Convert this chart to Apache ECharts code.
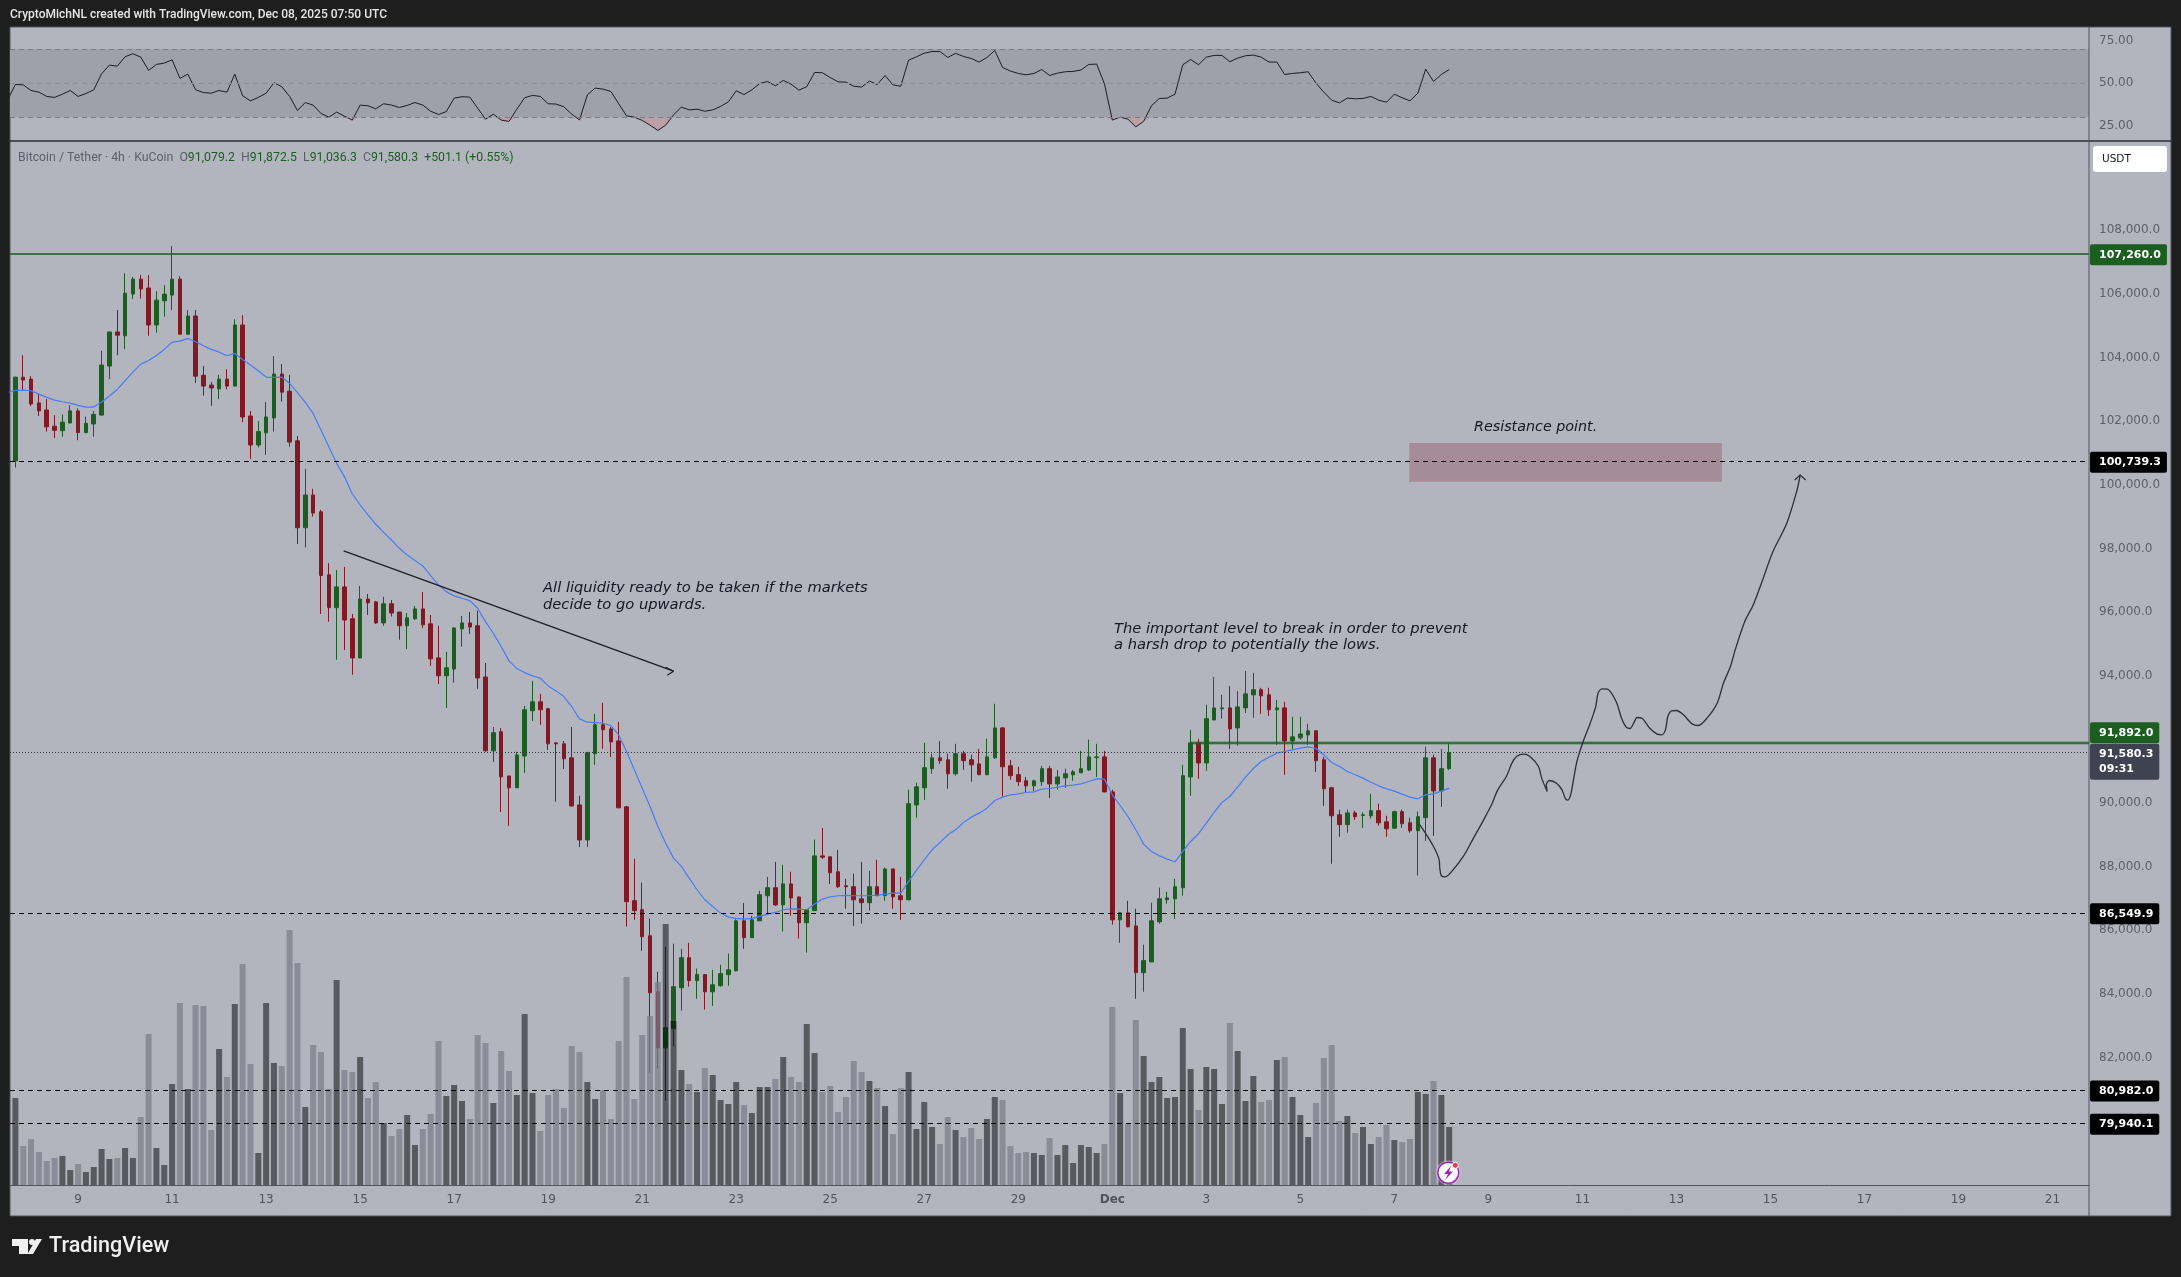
<!DOCTYPE html>
<html>
<head>
<meta charset="utf-8">
<title>BTC/USDT 4h</title>
<script src="https://cdn.jsdelivr.net/npm/echarts@6/dist/echarts.min.js"></script>
<style>
  html, body { margin: 0; padding: 0; background: #1e1e1e; }
  #chart { width: 2181px; height: 1277px; }
</style>
</head>
<body>
<div id="chart"></div>
<script>
// 4h candles, one entry per bar
const opens = [
  100750,103380,103320,102570,102350,101840,101700,101940,102320,101640,
  101910,102190,103730,104800,104680,105990,106460,106180,105020,105780,
  105960,106460,104730,105300,103440,103130,103010,103320,103100,105020,
  102160,101250,101630,102100,103480,102940,101380,98650,99680,99150,
  97170,96140,96790,95790,94560,96410,96320,95660,96260,96000,
  95570,95790,96100,95630,94560,94000,94210,95470,95660,95570,
  93960,91640,92240,90850,90480,91480,92900,93180,92960,91890,
  91860,91420,89940,88840,91550,92460,92330,91950,89880,86930,
  86650,85830,84070,82310,82910,84200,85140,84420,84610,84070,
  84260,84610,84730,86300,85770,86300,87090,87340,86800,87460,
  87050,86240,86620,88340,88310,87840,87400,87370,86990,86870,
  87370,87090,87930,87090,86960,89940,90480,91080,91420,91360,
  90920,91550,91360,91230,90890,91420,92360,91170,90890,90700,
  90540,90670,91080,90600,90790,90890,90950,91040,91430,91450,
  90350,86330,86550,86140,84670,85010,86270,86960,86990,87340,
  90820,91890,91260,92610,92960,92990,92360,92990,93400,93560,
  93400,92930,92990,91950,92050,92140,92270,91360,90480,89630,
  89320,89690,89610,89600,89760,89410,89210,89730,89380,89130,
  89540,91420,90380,91079.2
]
const closes = [
  103380,103290,102540,102320,101820,101710,101970,102320,101640,101930,
  102210,103760,104800,104700,106020,106460,106150,105020,105800,105990,
  106460,104730,105300,103410,103100,103040,103320,103100,105020,102130,
  101250,101670,102130,103480,102910,101340,98650,99680,99110,97150,
  96140,96790,95750,94560,96410,96290,95660,96260,95970,95570,
  95820,96100,95600,94530,94000,94250,95500,95660,95530,93930,
  91640,92210,90820,90480,91510,92930,93180,92930,91860,91860,
  91390,89910,88840,91580,92460,92300,91920,89850,86900,86620,
  85800,84040,82310,82940,84230,85140,84420,84610,84070,84290,
  84640,84760,86300,85770,86330,87120,87340,86800,87460,87020,
  86240,86650,88340,88300,87810,87370,87370,86960,86870,87370,
  87090,87930,87050,86960,89980,90510,91110,91420,91330,90920,
  91550,91330,91200,90890,91450,92360,91140,90860,90670,90540,
  90700,91080,90600,90820,90920,90980,91080,91450,91450,90350,
  86330,86550,86110,84670,85050,86300,86990,87020,87370,90860,
  91890,91260,92650,92990,92990,92330,93020,93430,93560,93370,
  92930,92990,91950,92080,92170,92270,91330,90450,89600,89320,
  89690,89570,89630,89760,89380,89190,89730,89350,89130,89570,
  91420,90380,91080,91580.3
]
const lows = [
  100540,102950,102470,102160,101670,101470,101510,101930,101400,101620,
  101510,102180,103320,104070,104260,105840,105850,104680,104780,105280,
  105490,104730,104720,103200,102800,102480,102690,103000,103090,101970,
  100810,101170,100940,101670,102610,101200,98140,98030,99000,95940,
  95700,94500,94810,94030,94550,95910,95630,95570,95860,95130,
  94840,95750,95500,94310,93740,92990,93780,94910,95310,93590,
  91620,91290,89720,89280,90470,90950,92580,92460,91670,90040,
  91070,89880,88620,88620,91200,91700,91450,89840,86120,86330,
  85360,81530,81660,80650,82350,83480,84230,83850,83510,83630,
  84230,84260,84710,85420,85760,86290,86490,86770,85960,86460,
  85740,85300,86610,88250,87460,87340,86680,86140,86210,86620,
  87080,86930,86680,86330,86950,89540,90100,90920,91230,90450,
  90860,91040,90670,90880,90880,91390,90200,90730,90540,90320,
  90380,90540,90160,90420,90480,90700,90940,91010,90820,90340,
  86180,85610,86100,83850,84070,85010,86210,86840,86360,87090,
  90230,90760,91010,92600,92650,91700,91800,92830,92680,92800,
  92740,91830,90890,91700,91990,91830,90980,89910,88090,88940,
  89070,89470,89220,89510,89290,88940,89190,89220,89070,87720,
  88810,88970,89880,91036.3
]
const highs = [
  103400,104070,103410,102840,102690,102190,102210,102500,102400,102140,
  102320,104210,104810,105490,106640,106530,106590,106590,106080,106270,
  107500,106550,105490,105490,103730,103230,103450,103630,105200,105330,
  102320,102000,102600,104040,103790,103450,101530,100500,99870,99210,
  97540,97320,97420,95940,96820,96570,96350,96480,96380,96010,
  95970,96190,96630,95910,95570,94750,95530,95880,96000,96040,
  94400,92390,92360,90860,91610,93050,93840,93430,92990,91920,
  91950,92390,90230,91610,92800,93150,92390,92550,89910,88250,
  87500,86370,84700,85490,85580,85420,85610,84800,84620,84760,
  84920,85270,86350,86860,86460,87240,87680,88150,88060,87840,
  87060,86660,88850,89220,88320,88530,87620,87780,88150,87870,
  88220,87970,87940,87680,90420,90640,91890,91550,91950,91550,
  91860,91640,91520,91700,92020,93120,92390,91360,91140,90820,
  90730,91170,91170,91040,91080,91040,91640,91990,91860,91640,
  90420,86580,86930,86680,85550,86870,87340,87210,87620,91200,
  92300,92020,93090,93960,93400,93680,93520,94150,94090,93620,
  93620,93240,93180,92710,92710,92490,92280,91450,90510,89790,
  89790,89760,89710,90290,89980,89600,89760,89790,89540,89730,
  91770,91520,91700,91872.5
]
// volume pane has no scale in the picture, so arbitrary units
const volumes = [
  87,39,46,33,24,27,29,15,21,13,18,36,26,27,37,27,68,151,37,20,
  101,182,96,180,179,55,136,108,181,221,121,32,182,122,119,255,222,78,140,133,
  96,205,115,113,128,87,103,62,49,56,70,40,56,71,144,89,100,84,66,150,
  142,82,134,114,90,171,92,54,90,96,77,139,133,103,86,95,66,144,208,86,
  150,169,203,261,164,115,101,93,117,110,85,81,103,80,72,98,98,106,128,108,
  103,161,132,93,99,73,88,124,113,104,97,79,51,97,113,56,83,58,41,68,
  55,48,57,46,66,88,85,39,32,33,32,30,47,30,40,22,40,38,32,41,
  178,92,61,165,129,103,108,87,88,157,116,75,118,116,81,162,134,84,109,83,
  85,125,128,88,70,48,82,127,140,64,69,52,58,41,48,60,45,43,46,93,
  91,104,90,58
]
const maValues = [
  102964,102974,102953,102849,102744,102660,102608,102566,102493,102441,
  102441,102598,102786,102995,103268,103540,103791,103906,104063,104252,
  104482,104513,104597,104492,104367,104252,104168,104053,104126,103937,
  103760,103582,103383,103372,103383,103184,102891,102587,102242,101718,
  101197,100673,100254,99710,99365,99051,98758,98506,98266,98004,
  97794,97617,97449,97145,96852,96643,96507,96434,96360,96120,
  95701,95335,94916,94466,94225,94099,93995,93921,93681,93524,
  93346,93032,92644,92540,92529,92508,92435,92142,91618,91043,
  90467,89891,89263,88740,88269,88009,87642,87276,86962,86752,
  86543,86417,86375,86354,86375,86438,86511,86563,86647,86678,
  86668,86647,86825,86982,87055,87087,87097,87087,87087,87087,
  87108,87139,87170,87170,87537,87882,88217,88531,88762,89002,
  89159,89390,89557,89683,89840,90081,90185,90258,90290,90332,
  90353,90436,90457,90499,90541,90562,90604,90677,90761,90750,
  90258,89923,89578,89159,88709,88479,88343,88238,88154,88479,
  88793,89034,89369,89704,90018,90206,90499,90813,91085,91305,
  91441,91567,91619,91672,91724,91766,91713,91515,91274,91148,
  90991,90887,90782,90656,90541,90447,90374,90279,90185,90133,
  90258,90290,90374,90468
]
const rsiValues = [
  49.2,49.0,45.7,44.7,42.2,41.6,43.5,45.7,42.2,43.9,46.1,55.5,60.6,60.0,65.5,67.3,65.3,57.5,61.0,61.8,
  63.7,52.8,55.3,46.1,44.5,44.1,45.7,44.7,55.3,42.6,39.6,41.6,44.1,50.2,47.9,42.2,33.9,38.6,37.1,32.2,
  30.0,33.0,30.6,28.3,37.1,36.7,34.9,37.9,37.1,35.7,36.9,38.6,37.1,33.5,31.6,33.3,41.2,42.0,41.8,35.3,
  28.8,31.8,28.3,27.5,34.7,41.4,42.8,42.2,37.9,37.7,36.1,31.8,28.4,43.1,47.1,46.5,45.1,37.9,30.8,30.0,
  28.1,25.3,22.2,25.3,31.4,35.9,34.3,34.7,33.5,34.3,36.3,39.0,45.5,43.3,46.1,49.8,51.0,48.4,51.6,49.4,
  45.9,47.9,56.3,56.1,53.3,50.8,50.6,48.2,47.7,51.2,49.2,54.5,49.0,48.2,63.5,65.5,67.6,68.6,68.6,65.1,
  67.5,65.7,64.5,62.4,65.1,69.2,59.2,57.1,55.7,54.9,55.7,58.0,54.5,55.9,56.7,56.9,57.7,61.0,61.2,49.6,
  28.3,30.0,28.8,24.3,27.5,36.7,41.0,41.2,43.5,60.8,63.9,60.8,65.3,66.3,66.3,62.6,64.7,66.1,66.5,65.3,
  62.4,62.4,55.1,55.7,56.1,56.7,50.0,44.7,40.0,38.4,41.2,40.8,41.0,42.2,40.0,38.8,43.5,41.4,39.6,44.1,
  58.2,51.0,55.1,58.0
]
// the bar just left of the visible range, only its lines show
const rsiBefore = 40.2
const maBefore = 102900

// hand drawn forecast, [bar, price]
const forecastPath = [
  [179.2,89327],[180.1,89002],[181.0,88636],[181.7,88238],[181.8,87955],[182.0,87715],[182.5,87683],[183.5,87903],
  [184.8,88322],[186.1,88898],[187.4,89473],[188.4,89944],[189.2,90415],[190.3,90834],[191.0,91253],[191.6,91462],
  [192.5,91535],[193.3,91462],[194.4,91148],[194.8,90782],[195.5,90363],[195.4,90572],[195.8,90709],[196.7,90625],
  [197.4,90415],[197.8,90154],[198.1,90091],[198.5,90258],[198.9,90782],[199.3,91305],[200.1,91933],[201.0,92509],
  [201.7,93032],[202.0,93451],[202.5,93587],[203.2,93577],[204.3,93189],[205.0,92666],[205.6,92383],[206.1,92342],
  [206.5,92488],[207.0,92687],[207.6,92666],[208.6,92352],[209.5,92174],[210.1,92143],[210.6,92300],[210.9,92718],
  [211.4,92896],[212.0,92907],[212.9,92771],[214.0,92488],[214.8,92436],[215.9,92666],[217.2,93137],[218.0,93765],
  [218.9,94289],[219.5,94812],[220.7,95691],[221.8,96225],[223.0,97010],[224.3,97889],[226.1,98800],[227.4,99836],
  [227.8,100307]
]
const forecastHead = [[227.1,100150],[227.8,100307],[228.5,100150]]
const trendLine = [[41.9,97921],[84.0,94143]]
const trendHead = [[83.0,94269],[84.0,94143],[83.2,94018]]
const resistanceZone = [[177.9,101312],[217.8,100097]]

const dashedLevels = [100739.3, 86549.9, 80982.0, 79940.1]
const resistanceLine = 107260.0
const breakLevel = 91892.0
const breakLevelStart = 149.9
const lastPrice = 91580.3
const countdown = '09:31'

const timeTickBars = [8,20,32,44,56,68,80,92,104,116,128,140,152,164,176,188,200,212,224,236,248,260]
const timeLabels = ['9','11','13','15','17','19','21','23','25','27','29','Dec','3','5','7','9','11','13','15','17','19','21']
const rsiTicks = [25, 50, 75]

const axisFont = 'DejaVu Sans'
const noteFont = 'italic 14.7px DejaVu Sans'
const upColor = '#1b5e20'
const downColor = '#801922'
const inkColor = '#1c1d22'
const xMin = -0.689
const xMax = 264.66

const money = v => v.toLocaleString('en-US', { minimumFractionDigits: 1, maximumFractionDigits: 1 })

function tag(text, bg, dy) {
  return {
    show: true,
    position: 'end',
    distance: 1,
    formatter: text,
    color: '#fff',
    backgroundColor: bg,
    padding: [3, 6, 3, 9],
    borderRadius: 2,
    lineHeight: 15,
    fontFamily: axisFont,
    fontSize: 11,
    fontWeight: 'bold',
    align: 'left',
    offset: [0, dy === undefined ? 1 : dy]
  }
}

const chart = echarts.init(document.getElementById('chart'), null, { renderer: 'canvas' })

chart.setOption({
  animation: false,
  backgroundColor: '#1e1e1e',
  grid: [
    { left: 10, right: 92, top: 27, height: 114 },
    { left: 10, right: 92, top: 141, height: 1044 }
  ],
  xAxis: [
    { type: 'value', gridIndex: 0, min: xMin, max: xMax, axisLabel: { show: false }, axisTick: { show: false }, axisLine: { show: false }, splitLine: { show: false } },
    {
      type: 'value', gridIndex: 1, min: xMin, max: xMax,
      axisTick: { show: false },
      splitLine: { show: false },
      axisLine: { show: true, onZero: false, lineStyle: { color: '#50535e', width: 1 } },
      axisLabel: {
        customValues: timeTickBars,
        hideOverlap: false,
        margin: 9,
        fontFamily: axisFont,
        fontSize: 12,
        color: '#50535e',
        formatter: v => {
          const label = timeLabels[timeTickBars.indexOf(v)]
          return label === 'Dec' ? '{month|Dec}' : label
        },
        rich: { month: { fontFamily: axisFont, fontSize: 12, fontWeight: 'bold', color: '#50535e' } }
      }
    }
  ],
  yAxis: [
    {
      type: 'value', gridIndex: 0, position: 'right', min: 16, max: 83,
      splitLine: { show: false }, axisTick: { show: false }, axisLine: { show: false },
      axisLabel: { customValues: rsiTicks, margin: 10, fontFamily: axisFont, fontSize: 12, color: '#5d606b', formatter: v => v.toFixed(2) }
    },
    {
      type: 'value', gridIndex: 1, position: 'right', min: 78000, max: 110800, interval: 2000,
      splitLine: { show: false }, axisTick: { show: false }, axisLine: { show: false },
      axisLabel: {
        margin: 10, fontFamily: axisFont, fontSize: 12, color: '#5d606b',
        formatter: v => (v >= 82000 && v <= 108000 ? money(v) : '')
      }
    },
    { type: 'value', gridIndex: 1, min: 0, max: 1044, show: false }
  ],
  series: [
    {
      name: 'RSI',
      type: 'line',
      xAxisIndex: 0,
      yAxisIndex: 0,
      z: 3,
      showSymbol: false,
      data: [[-1, rsiBefore]].concat(rsiValues.map((v, i) => [i, v])),
      lineStyle: { color: inkColor, width: 1 },
      markArea: {
        silent: true,
        itemStyle: { color: '#9ea1a9' },
        data: [[{ xAxis: xMin, yAxis: 70 }, { xAxis: xMax, yAxis: 30 }]]
      },
      markLine: {
        silent: true,
        symbol: 'none',
        label: { show: false },
        data: [
          { yAxis: 70, lineStyle: { color: '#787b86', type: [5, 4], width: 1 } },
          { yAxis: 50, lineStyle: { color: '#8c8e98', type: [5, 4], width: 1 } },
          { yAxis: 30, lineStyle: { color: '#787b86', type: [5, 4], width: 1 } }
        ]
      }
    },
    {
      name: 'RSI oversold',
      type: 'line',
      xAxisIndex: 0,
      yAxisIndex: 0,
      z: 2,
      showSymbol: false,
      data: rsiValues.map((v, i) => [i, Math.min(v, 30)]),
      lineStyle: { width: 0 },
      areaStyle: { origin: 30, color: 'rgba(242,54,69,0.25)' }
    },
    {
      name: 'BTCUSDT',
      type: 'candlestick',
      xAxisIndex: 1,
      yAxisIndex: 1,
      z: 2,
      barWidth: 4,
      encode: { x: 0, y: [1, 2, 3, 4] },
      data: opens.map((o, i) => [i, o, closes[i], lows[i], highs[i]]),
      itemStyle: { color: upColor, color0: downColor, borderColor: upColor, borderColor0: downColor, borderWidth: 1 }
    },
    {
      name: 'Volume',
      type: 'bar',
      xAxisIndex: 1,
      yAxisIndex: 2,
      z: 3,
      barWidth: 6,
      data: volumes.map((v, i) => ({
        value: [i, v],
        itemStyle: { color: closes[i] >= opens[i] ? 'rgba(0,0,0,0.5)' : 'rgba(121,122,134,0.7)' }
      }))
    },
    {
      name: 'MA',
      type: 'line',
      xAxisIndex: 1,
      yAxisIndex: 1,
      z: 4,
      showSymbol: false,
      data: [[-1, maBefore]].concat(maValues.map((v, i) => [i, v])),
      lineStyle: { color: '#4a7bf5', width: 1.2 }
    },
    {
      name: 'Forecast',
      type: 'line',
      xAxisIndex: 1,
      yAxisIndex: 1,
      z: 5,
      showSymbol: false,
      smooth: 0.3,
      data: forecastPath,
      lineStyle: { color: '#2c2e38', width: 1.3 }
    },
    {
      name: 'Forecast head',
      type: 'line',
      xAxisIndex: 1,
      yAxisIndex: 1,
      z: 5,
      showSymbol: false,
      data: forecastHead,
      lineStyle: { color: '#2c2e38', width: 1.2 }
    },
    {
      name: 'Trend',
      type: 'line',
      xAxisIndex: 1,
      yAxisIndex: 1,
      z: 5,
      showSymbol: false,
      data: trendLine,
      lineStyle: { color: inkColor, width: 1.2 },
      markArea: {
        silent: true,
        itemStyle: { color: '#a58c96' },
        data: [[{ xAxis: resistanceZone[0][0], yAxis: resistanceZone[0][1] }, { xAxis: resistanceZone[1][0], yAxis: resistanceZone[1][1] }]]
      }
    },
    {
      name: 'Trend head',
      type: 'line',
      xAxisIndex: 1,
      yAxisIndex: 1,
      z: 5,
      showSymbol: false,
      data: trendHead,
      lineStyle: { color: inkColor, width: 1.2 }
    },
    {
      name: 'Levels',
      type: 'line',
      xAxisIndex: 1,
      yAxisIndex: 1,
      z: 6,
      showSymbol: false,
      data: [[xMin, lastPrice]],
      lineStyle: { width: 0 },
      markLine: {
        silent: true,
        symbol: 'none',
        data: [
          ...dashedLevels.map(v => ({
            yAxis: v,
            lineStyle: { color: '#000', type: [5, 4], width: 1 },
            label: tag(money(v), '#000')
          })),
          {
            yAxis: resistanceLine,
            lineStyle: { color: upColor, type: 'solid', width: 1.5 },
            label: tag(money(resistanceLine), upColor)
          },
          {
            yAxis: lastPrice,
            lineStyle: { color: '#34363f', type: [1, 2], width: 1 },
            label: tag(money(lastPrice) + '\n' + countdown, '#3f4250', 9)
          },
          [
            { coord: [breakLevelStart, breakLevel], lineStyle: { color: 'rgba(27,94,32,0.25)', type: 'solid', width: 4 }, label: { show: false } },
            { coord: [xMax, breakLevel] }
          ],
          [
            { coord: [breakLevelStart, breakLevel], lineStyle: { color: upColor, type: 'solid', width: 1.5 }, label: tag(money(breakLevel), upColor, -10) },
            { coord: [xMax, breakLevel] }
          ]
        ]
      }
    }
  ],
  graphic: [
    // pane background and frame
    { type: 'rect', z: -10, silent: true, shape: { x: 10, y: 27, width: 2161, height: 1189 }, style: { fill: '#b2b5be', stroke: '#50535e', lineWidth: 1 } },
    { type: 'line', z: 10, silent: true, shape: { x1: 10, y1: 141, x2: 2171, y2: 141 }, style: { stroke: '#2a2e39', lineWidth: 1.5 } },
    { type: 'line', z: 10, silent: true, shape: { x1: 2089, y1: 27, x2: 2089, y2: 1216 }, style: { stroke: '#50535e', lineWidth: 1 } },

    { type: 'text', z: 20, silent: true, style: { x: 10, y: 15, text: 'CryptoMichNL created with TradingView.com, Dec 08, 2025 07:50 UTC', fill: '#e6e6e6', font: '500 12px Roboto', verticalAlign: 'middle' } },
    {
      type: 'text', z: 20, silent: true,
      style: {
        x: 18, y: 158, verticalAlign: 'middle',
        text: '{t|Bitcoin / Tether · 4h · KuCoin}  {t|O}{v|91,079.2}  {t|H}{v|91,872.5}  {t|L}{v|91,036.3}  {t|C}{v|91,580.3}  {v|+501.1 (+0.55%)}',
        rich: {
          t: { fill: '#5d606b', font: '12.3px Roboto' },
          v: { fill: upColor, font: '12.3px Roboto' }
        },
        font: '12.3px Roboto'
      }
    },

    // USDT button
    { type: 'rect', z: 20, silent: true, shape: { x: 2093, y: 146, width: 74, height: 26, r: 3 }, style: { fill: '#fff' } },
    { type: 'text', z: 21, silent: true, style: { x: 2102, y: 159, text: 'USDT', fill: '#131722', font: '10.5px ' + axisFont, verticalAlign: 'middle' } },

    // drawn notes
    { type: 'text', z: 20, silent: true, style: { x: 543, y: 588.5, text: 'All liquidity ready to be taken if the markets', fill: '#131722', font: noteFont, verticalAlign: 'middle' } },
    { type: 'text', z: 20, silent: true, style: { x: 543, y: 605, text: 'decide to go upwards.', fill: '#131722', font: noteFont, verticalAlign: 'middle' } },
    { type: 'text', z: 20, silent: true, style: { x: 1114, y: 629, text: 'The important level to break in order to prevent', fill: '#131722', font: noteFont, verticalAlign: 'middle' } },
    { type: 'text', z: 20, silent: true, style: { x: 1114, y: 645, text: 'a harsh drop to potentially the lows.', fill: '#131722', font: noteFont, verticalAlign: 'middle' } },
    { type: 'text', z: 20, silent: true, style: { x: 1474, y: 427, text: 'Resistance point.', fill: '#131722', font: 'italic 14.3px DejaVu Sans', verticalAlign: 'middle' } },

    // news badge on the last volume bar
    { type: 'circle', z: 20, silent: true, shape: { cx: 1448.3, cy: 1172.7, r: 10.5 }, style: { fill: '#fff', stroke: '#9c27b0', lineWidth: 1.5, shadowColor: '#fff', shadowBlur: 2 } },
    { type: 'polygon', z: 21, silent: true, shape: { points: [[1451, 1166], [1444, 1174], [1448, 1174], [1445, 1180], [1453, 1171.5], [1449, 1171.5]] }, style: { fill: '#9c27b0' } },
    { type: 'circle', z: 22, silent: true, shape: { cx: 1455.3, cy: 1165.3, r: 3 }, style: { fill: '#f23645', stroke: '#fff', lineWidth: 1 } },

    // footer logo
    { type: 'polygon', z: 20, silent: true, shape: { points: [[12, 1239], [28, 1239], [28, 1254], [19, 1254], [19, 1246], [12, 1246]] }, style: { fill: '#f0f0f0' } },
    { type: 'circle', z: 20, silent: true, shape: { cx: 32, cy: 1242, r: 3 }, style: { fill: '#f0f0f0' } },
    { type: 'polygon', z: 20, silent: true, shape: { points: [[36, 1239], [42, 1239], [33, 1254], [27.5, 1254]] }, style: { fill: '#f0f0f0' } },
    { type: 'text', z: 20, silent: true, style: { x: 49, y: 1247, text: 'TradingView', fill: '#f0f0f0', font: '500 21.6px Roboto', verticalAlign: 'middle' } }
  ]
})
</script>
</body>
</html>
